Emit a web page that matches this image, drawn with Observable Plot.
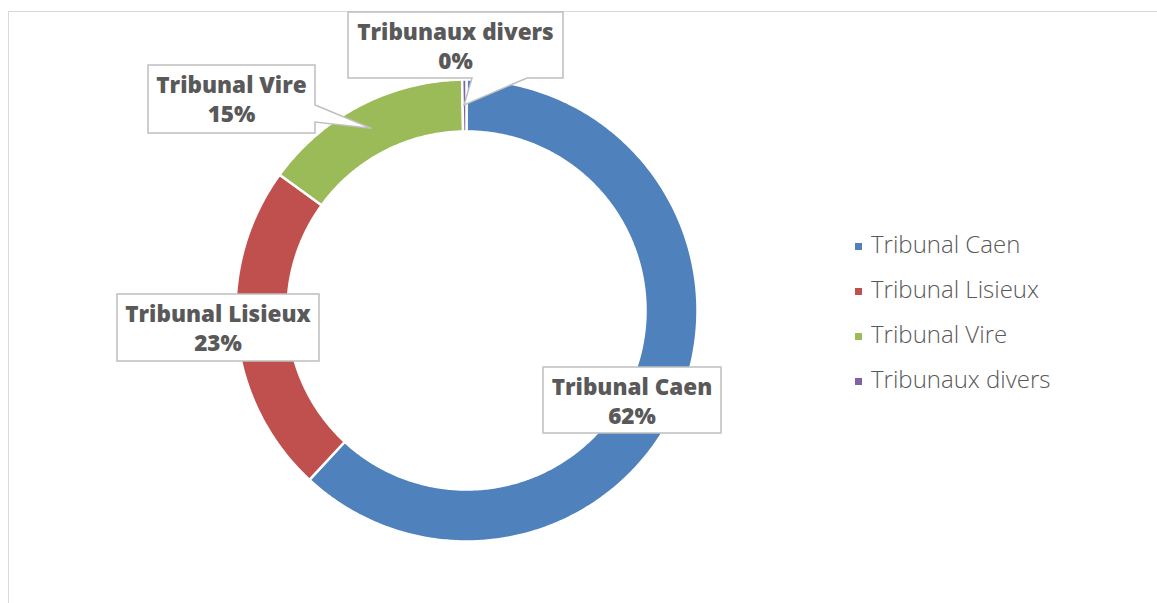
<!DOCTYPE html>
<html>
<head>
<meta charset="utf-8">
<script src="https://cdn.jsdelivr.net/npm/d3@7"></script>
<script src="https://cdn.jsdelivr.net/npm/@observablehq/plot@0.6"></script>
<style>
  html, body { margin: 0; padding: 0; background: #fff; overflow: hidden; }
  #wrap { position: relative; width: 1157px; height: 603px; }
  #frame { position: absolute; left: 8px; top: 11px; width: 1300px; height: 800px;
           border: 1.5px solid #d9d9d9; box-sizing: border-box; }
  #chart { position: absolute; left: 0; top: 0; }
</style>
</head>
<body>
<div id="wrap"><div id="frame"></div><div id="chart"></div></div>
<script>
// ---- data ----
const categories = ["Tribunal Caen", "Tribunal Lisieux", "Tribunal Vire", "Tribunaux divers"];
const values = [61.9, 23.1, 14.7, 0.3];
const colors = ["#4F81BD", "#C0504D", "#9BBB59", "#8064A2"];

// ---- build slices ----
const total = d3.sum(values);
const innerRatio = 0.775;
let acc = 0;
const slices = categories.map((name, i) => {
  const a0 = acc / total * 2 * Math.PI;
  acc += values[i];
  const a1 = acc / total * 2 * Math.PI;
  return { name, value: values[i], a0, a1, pct: Math.round(values[i] / total * 100) + "%" };
});
const pts = [];
for (const s of slices) {
  const n = Math.max(2, Math.ceil((s.a1 - s.a0) / 0.01));
  for (let k = 0; k <= n; k++) {
    const a = s.a0 + (s.a1 - s.a0) * k / n;
    pts.push({ name: s.name, x: Math.sin(a), y: Math.cos(a) });
  }
  for (let k = n; k >= 0; k--) {
    const a = s.a0 + (s.a1 - s.a0) * k / n;
    pts.push({ name: s.name, x: innerRatio * Math.sin(a), y: innerRatio * Math.cos(a) });
  }
}

const chart = Plot.plot({
  width: 1157,
  height: 603,
  margin: 0,
  x: { domain: [-1, 1], range: [235, 697], axis: null },
  y: { domain: [-1, 1], range: [541, 79], axis: null },
  color: { domain: categories, range: colors },
  style: { background: "transparent", overflow: "visible" },
  marks: [
    Plot.line(pts, { x: "x", y: "y", z: "name", fill: "name", stroke: "white",
                     strokeWidth: 2.5, curve: "linear-closed" })
  ]
});
document.getElementById("chart").appendChild(chart);

const sx = chart.scale("x"), sy = chart.scale("y");
const svg = d3.select(chart);
const gray = "#595959";

// ---- callouts ----
const boxes = {
  "Tribunal Caen":    { x: 543, y: 367, w: 178, h: 66 },
  "Tribunal Lisieux": { x: 117, y: 294, w: 202, h: 67 },
  "Tribunal Vire":    { x: 148, y: 65,  w: 167, h: 68, ptr: "right", p0: 105, p1: 122 },
  "Tribunaux divers": { x: 348, y: 12,  w: 215, h: 66, ptr: "bottom", p0: 472, p1: 527 }
};
const g = svg.append("g");
for (const s of slices) {
  const b = boxes[s.name];
  const am = (s.a0 + s.a1) / 2, rm = (1 + innerRatio) / 2;
  const tx = sx.apply(rm * Math.sin(am)), ty = sy.apply(rm * Math.cos(am));
  let d;
  const L = b.x, R = b.x + b.w, T = b.y, B = b.y + b.h;
  if (b.ptr === "right") {
    d = `M${L},${T}H${R}V${b.p0}L${tx},${ty}L${R},${b.p1}V${B}H${L}Z`;
  } else if (b.ptr === "bottom") {
    d = `M${L},${T}H${R}V${B}H${b.p1}L${tx},${ty}L${b.p0},${B}H${L}Z`;
  } else {
    d = `M${L},${T}H${R}V${B}H${L}Z`;
  }
  g.append("path").attr("d", d).attr("fill", "white").attr("stroke", "#bfbfbf").attr("stroke-width", 1.5);
  const t = g.append("text").attr("text-anchor", "middle").attr("fill", gray)
    .attr("font-family", "'Open Sans', sans-serif").attr("font-weight", 800).attr("font-size", 22.5);
  t.append("tspan").attr("x", L + b.w / 2).attr("y", T + 28).text(s.name);
  t.append("tspan").attr("x", L + b.w / 2).attr("y", T + 57).text(s.pct);
}

// ---- legend ----
const lg = svg.append("g").attr("font-family", "'Open Sans', sans-serif")
  .attr("font-weight", 300).attr("font-size", 24).attr("fill", gray).attr("text-anchor", "start");
categories.forEach((c, i) => {
  const y0 = 243 + i * 45;
  lg.append("rect").attr("x", 855).attr("y", y0).attr("width", 7).attr("height", 7).attr("fill", colors[i]);
  lg.append("text").attr("x", 871).attr("y", y0 + 10).attr("text-anchor", "start").text(c);
});
</script>
</body>
</html>
